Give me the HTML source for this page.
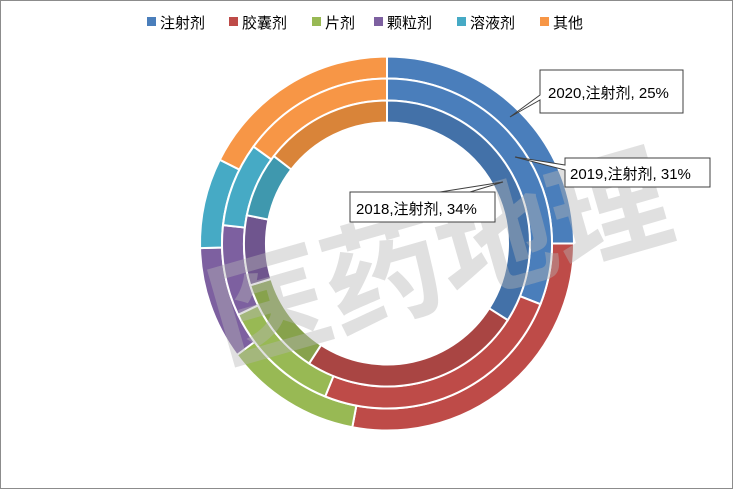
<!DOCTYPE html>
<html><head><meta charset="utf-8"><style>
html,body{margin:0;padding:0;background:#fff}
svg{display:block}
text{font-family:"Liberation Sans","Noto Sans CJK SC",sans-serif}
</style></head><body>
<svg id="s" width="733" height="489" xmlns="http://www.w3.org/2000/svg">
<rect x="0.5" y="0.5" width="732" height="488" fill="#fff" stroke="#8c8c8c"/>
<g id="rings"></g>
<text x="440" y="300" font-size="118" font-weight="bold" fill="#b5b5b5" fill-opacity="0.42" text-anchor="middle" transform="rotate(-16 440 260)" style="font-family:'Noto Sans CJK SC',sans-serif">医药地理</text>
<g font-size="15" fill="#000">
<rect x="147" y="17" width="9" height="9" fill="#4a7ebb"/><text x="160" y="28">注射剂</text>
<rect x="229" y="17" width="9" height="9" fill="#be4b48"/><text x="242" y="28">胶囊剂</text>
<rect x="312" y="17" width="9" height="9" fill="#98b954"/><text x="325" y="28">片剂</text>
<rect x="374" y="17" width="9" height="9" fill="#7d60a0"/><text x="387" y="28">颗粒剂</text>
<rect x="457" y="17" width="9" height="9" fill="#46aac5"/><text x="470" y="28">溶液剂</text>
<rect x="540" y="17" width="9" height="9" fill="#f79646"/><text x="553" y="28">其他</text>
</g>
<g font-size="15" fill="#000" stroke-width="1">
<path d="M540,70 H683 V113 H540 V100 L510,117 L540,95 Z" fill="#fff" stroke="#404040"/>
<text x="548" y="98">2020,注射剂, 25%</text>
<path d="M565,158 H710 V187 H565 V170 L515,157 L565,165 Z" fill="#fff" stroke="#404040"/>
<text x="570" y="179">2019,注射剂, 31%</text>
<path d="M350,192 H495 V222 H350 Z M440,192 L503,182 L470,192" fill="#fff" stroke="#404040"/>
<text x="356" y="214">2018,注射剂, 34%</text>
</g>
</svg>
<script>
var cx=387,cy=243.5;
var rings=[
 {r0:165,r1:187,ends:[90,190.7,233.4,268.6,296.6,360],cols:["#4a7ebb","#be4b48","#98b954","#7d60a0","#46aac5","#f79646"]},
 {r0:143,r1:165,ends:[111.6,202,244.4,276.4,306,360],cols:["#4a7ebb","#be4b48","#98b954","#7d60a0","#46aac5","#f79646"]},
 {r0:121,r1:143,ends:[122.4,213,253,281.4,307.7,360],cols:["#4371a8","#a94543","#87a24c","#6f558e","#3f98ae","#d98439"]}
];
function pt(r,a){a=a*Math.PI/180;return [cx+r*Math.sin(a),cy-r*Math.cos(a)];}
var g=document.getElementById('rings'),h='';
rings.forEach(function(R){var s=0;R.ends.forEach(function(e,i){
 var l=(e-s)>180?1:0,a=pt(R.r1,s),b=pt(R.r1,e),c=pt(R.r0,e),d=pt(R.r0,s);
 h+='<path d="M'+a+' A'+R.r1+','+R.r1+' 0 '+l+' 1 '+b+' L'+c+' A'+R.r0+','+R.r0+' 0 '+l+' 0 '+d+' Z" fill="'+R.cols[i]+'" stroke="#fff" stroke-width="2"/>';
 s=e;});});
g.innerHTML=h;
</script>
</body></html>
